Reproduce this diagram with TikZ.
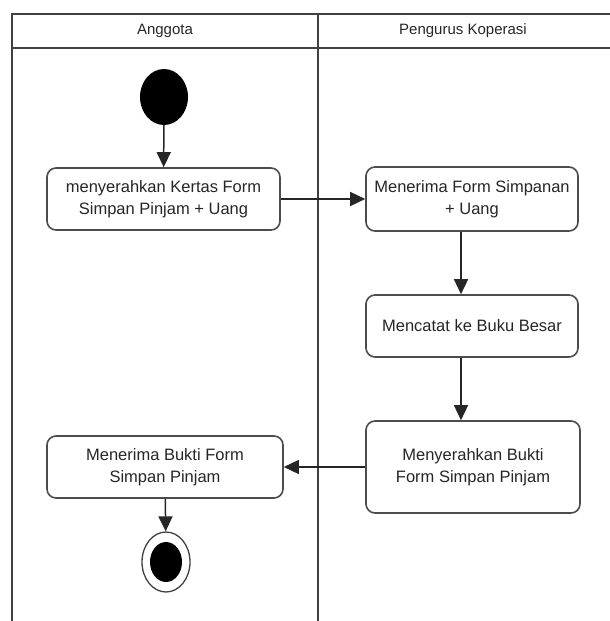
\documentclass[tikz,border=0pt]{standalone}
\usepackage{fontspec}
\setmainfont{Liberation Sans}
\usetikzlibrary{arrows.meta}
\usetikzlibrary{shapes.geometric}

\tikzset{
  act/.style={draw=black!70, line width=1.6pt, rounded corners=9pt, fill=white,
    align=center, text=black!85, font=\fontsize{16.5}{22}\selectfont},
  flow/.style={draw=black!85, line width=1.5pt, -{Triangle[width=14pt,length=15pt]}},
  lane/.style={draw=black!75, line width=1.8pt},
}

\begin{document}
\begin{tikzpicture}[x=1pt, y=-1pt]
\useasboundingbox (0,0) rectangle (610,621);
% swimlanes
\draw[lane] (12,621) -- (12,14) -- (610,14);
\draw[lane] (12,48) -- (610,48);
\draw[lane] (318,14) -- (318,621);
\node[text=black!85, font=\fontsize{15}{17}\selectfont] (anggota) at (165,31) {Anggota};
\node[text=black!85, font=\fontsize{15}{17}\selectfont] (pengurus) at (463,31) {Pengurus Koperasi};

% start / end
\node[ellipse, fill=black, minimum width=48pt, minimum height=56pt, inner sep=0pt] (start) at (164,97) {};
\node[ellipse, draw=black!75, line width=1.3pt, fill=white, minimum width=48pt, minimum height=60pt, inner sep=0pt] (end) at (166,562) {};
\node[ellipse, fill=black, minimum width=32pt, minimum height=40pt, inner sep=0pt] (endin) at (end) {};

% activities
\node[act, minimum width=233pt, minimum height=62pt] (serah) at (163.5,199) {menyerahkan Kertas Form\\Simpan Pinjam + Uang};
\node[act, minimum width=212pt, minimum height=64pt] (terima) at (472,199) {Menerima Form Simpanan\\+ Uang};
\node[act, minimum width=212pt, minimum height=62pt] (catat) at (472,326) {Mencatat ke Buku Besar};
\node[act, minimum width=214pt, minimum height=92pt] (bukti) at (473,467) {Menyerahkan Bukti\\Form Simpan Pinjam};
\node[act, minimum width=236pt, minimum height=62pt] (terimabukti) at (165,467) {Menerima Bukti Form\\Simpan Pinjam};

% flows
\draw[flow] (start) -- (serah);
\draw[flow] (serah) -- (terima);
\draw[flow] (terima.south -| 461,0) -- (catat.north -| 461,0);
\draw[flow] (catat.south -| 461,0) -- (bukti.north -| 461,0);
\draw[flow] (bukti) -- (terimabukti);
\draw[flow] (terimabukti) -- (end);
\end{tikzpicture}
\end{document}
